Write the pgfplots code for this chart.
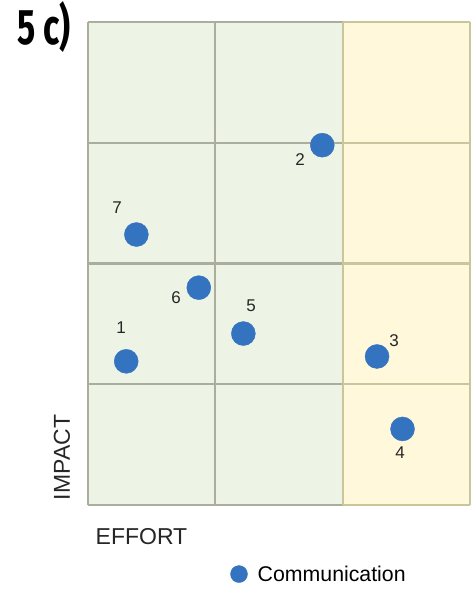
\documentclass[border=0pt]{standalone}
\usepackage{pgfplots}
\pgfplotsset{compat=1.18}
\usepackage{fontspec}
\setmainfont{Liberation Sans}
\newfontfamily\titlefont{Fira Sans}
\definecolor{bggreen}{HTML}{EEF4E5}
\definecolor{bgyellow}{HTML}{FFF8DA}
\definecolor{gridg}{HTML}{ABAE9D}
\definecolor{gridy}{HTML}{C9C69C}
\definecolor{dotblue}{HTML}{3373BF}
\begin{document}
\begin{tikzpicture}[x=1pt,y=1pt]
\useasboundingbox (0,0) rectangle (475,-591);
\begin{axis}[
  at={(88pt,-505pt)}, anchor=south west,
  scale only axis, width=382pt, height=483pt,
  xmin=0, xmax=3, ymin=0, ymax=4,
  axis lines=none, clip=false,
  legend style={draw=none, fill=none, at={(0.372,-0.143)}, anchor=west,
    font=\fontsize{21.3}{25}\selectfont, inner sep=0pt},
  legend image code/.code={\fill[dotblue] (0pt,0pt) circle (8.5pt);},
]
\fill[bggreen] (axis cs:0,0) rectangle (axis cs:2,4);
\fill[bgyellow] (axis cs:2,0) rectangle (axis cs:3,4);
\pgfplotsinvokeforeach{0,1,2,3,4}{
  \draw[gridg, line width=2.2pt] (axis cs:0,#1) -- (axis cs:2,#1);
  \draw[gridy, line width=2.2pt] (axis cs:2,#1) -- (axis cs:3,#1);
}
\draw[gridg, line width=2.2pt] (axis cs:0,0) -- (axis cs:0,4);
\draw[gridg, line width=2.2pt] (axis cs:1,0) -- (axis cs:1,4);
\draw[gridy, line width=2.2pt] (axis cs:2,0) -- (axis cs:2,4);
\draw[gridy, line width=2.2pt] (axis cs:3,0) -- (axis cs:3,4);
\addplot[only marks, mark=*, mark size=12pt, color=dotblue, mark options={draw=none, fill=dotblue}] coordinates {
  (0.30,1.19) (1.84,2.98) (2.27,1.23) (2.47,0.63) (1.22,1.42) (0.87,1.80) (0.38,2.24)
};
\addlegendentry{\hspace{8pt}Communication}
\begin{scope}[font=\fontsize{17}{20}\selectfont, text=black!85]
\node at (axis cs:0.26,1.47) {1};
\node at (axis cs:1.665,2.857) {2};
\node at (axis cs:2.404,1.358) {3};
\node at (axis cs:2.451,0.431) {4};
\node at (axis cs:1.28,1.648) {5};
\node at (axis cs:0.691,1.714) {6};
\node at (axis cs:0.228,2.46) {7};
\end{scope}
\end{axis}
\node[rotate=90, font=\fontsize{23}{27}\selectfont, text=black!85] at (62,-457.5) {IMPACT};
\node[font=\fontsize{23}{27}\selectfont, text=black!85] at (141.5,-537) {EFFORT};
\node[anchor=west, inner sep=0pt] at (17,-27.5) {\scalebox{0.68}[1]{\titlefont\fontsize{50}{50}\selectfont\bfseries 5 c)}};
\end{tikzpicture}
\end{document}
